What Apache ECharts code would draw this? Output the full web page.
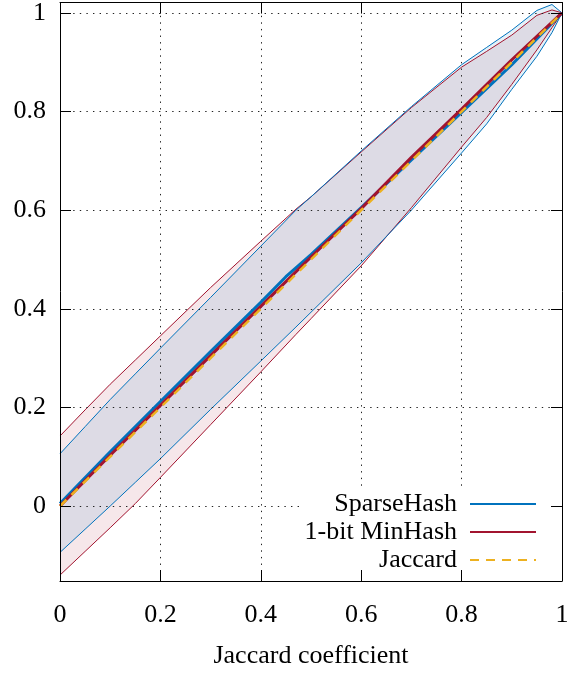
<!DOCTYPE html>
<html><head><meta charset="utf-8">
<script src="https://cdn.jsdelivr.net/npm/echarts@6/dist/echarts.min.js"></script>
<style>html,body{margin:0;padding:0;background:#fff}#c{width:584px;height:674px}</style>
</head><body><div id="c"></div>
<script>
// ---- data ----
const bandX        = [0,     0.05,   0.1,    0.15,  0.2,   0.3,   0.4,   0.47,  0.5,   0.6,   0.7,   0.8,   0.85,  0.9,   0.95,  0.98,  1];
const sparseUpper  = [0.106, 0.161,  0.216,  0.268, 0.32,  0.423, 0.527, 0.6,   0.627, 0.72,  0.81,  0.895, 0.93,  0.965, 1.005, 1.017, 1.0];
const sparseLower  = [-0.094,-0.047, 0.0,    0.048, 0.096, 0.196, 0.294, 0.363, 0.393, 0.493, 0.6,   0.716, 0.775, 0.845, 0.912, 0.96,  1.0];
const minhashUpper = [0.142, 0.195,  0.247,  0.296, 0.345, 0.443, 0.537, 0.602, 0.627, 0.718, 0.808, 0.89,  0.922, 0.955, 0.995, 1.006, 1.0];
const minhashLower = [-0.14, -0.092, -0.044, 0.005, 0.058, 0.165, 0.272, 0.348, 0.38,  0.487, 0.605, 0.728, 0.788, 0.855, 0.925, 0.97,  1.0];
const meanX        = [0,     0.1,    0.2,    0.3,   0.4,   0.45,  0.5,   0.6,   0.7,   0.8,   0.9,   1];
const sparseMean   = [0.005, 0.11,   0.212,  0.313, 0.413, 0.465, 0.51,  0.605, 0.702, 0.798, 0.895, 1.0];
const minhashMean  = [0.0,   0.103,  0.204,  0.305, 0.405, 0.455, 0.505, 0.603, 0.707, 0.805, 0.905, 1.0];
const jaccardX     = [0, 1];
const jaccardY     = [0, 1];
const tickValues   = [0, 0.2, 0.4, 0.6, 0.8, 1];
const seriesNames  = ['SparseHash', '1-bit MinHash', 'Jaccard'];
const xAxisName    = 'Jaccard coefficient';

const BLUE = '#0072BD', RED = '#A2142F', ORANGE = '#EDB120';
const FONT = 'Liberation Serif';
const FS = 26;
const pairs = (xs, ys) => xs.map((x, i) => [x, ys[i]]);

function bandSeries(upper, lower, fill) {
  return {
    type: 'custom', xAxisIndex: 0, yAxisIndex: 0, z: 1, silent: true,
    data: bandX.map((x, i) => [x, upper[i], lower[i]]),
    encode: { x: 0, y: [1, 2] },
    renderItem(params, api) {
      if (params.dataIndex !== 0) return null;
      const pts = [];
      for (let i = 0; i < bandX.length; i++) pts.push(api.coord([bandX[i], upper[i]]));
      for (let i = bandX.length - 1; i >= 0; i--) pts.push(api.coord([bandX[i], lower[i]]));
      return { type: 'polygon', shape: { points: pts }, style: { fill: fill } };
    }
  };
}
function edge(ys, color) {
  return { type: 'line', data: pairs(bandX, ys), symbol: 'none', z: 2, silent: true,
    lineStyle: { color: color, width: 1 }, itemStyle: { color: color } };
}

const chart = echarts.init(document.getElementById('c'), null, { renderer: 'canvas' });
const xMin = 0, xMax = 1, yMin = -0.152, yMax = 1.021;
const tickCommon = { show: true, inside: true, length: 11, lineStyle: { color: '#000', width: 1 } };
const gridLine = { show: true, lineStyle: { color: '#222', width: 1, type: [1.4, 5.2] } };

chart.setOption({
  animation: false,
  backgroundColor: '#fff',
  grid: { left: 60, right: 22, top: 0, bottom: 87 },
  legend: {
    data: seriesNames,
    orient: 'vertical', align: 'right',
    right: 22, top: 488,
    itemWidth: 66, itemHeight: 14, itemGap: 2,
    padding: [3, 25, 10, 5],
    backgroundColor: '#fff',
    z: 5,
    itemStyle: { opacity: 0 },
    textStyle: { fontFamily: FONT, fontSize: FS, color: '#000', lineHeight: 24, padding: [0, 8, 0, 0] }
  },
  xAxis: [
    { type: 'value', min: xMin, max: xMax, interval: 0.2, position: 'bottom', z: 3,
      axisLine: { show: false, onZero: false }, axisTick: { show: false },
      name: xAxisName, nameLocation: 'middle', nameGap: 62,
      nameTextStyle: { fontFamily: FONT, fontSize: FS, color: '#000' },
      axisLabel: { fontFamily: FONT, fontSize: FS, color: '#000', margin: 21 },
      splitLine: gridLine },
    { type: 'value', min: xMin, max: xMax, interval: 0.2, position: 'bottom', z: 10,
      axisLine: { show: true, onZero: false, lineStyle: { color: '#000', width: 1 } },
      axisTick: tickCommon, axisLabel: { show: false }, splitLine: { show: false } },
    { type: 'value', min: xMin, max: xMax, interval: 0.2, position: 'top', z: 10,
      axisLine: { show: true, onZero: false, lineStyle: { color: '#000', width: 1 } },
      axisTick: tickCommon, axisLabel: { show: false }, splitLine: { show: false } }
  ],
  yAxis: [
    { type: 'value', min: yMin, max: yMax, position: 'left', z: 3,
      axisLine: { show: false, onZero: false },
      axisTick: { show: true, inside: true, length: 0, customValues: tickValues },
      axisLabel: { fontFamily: FONT, fontSize: FS, color: '#000', margin: 14, customValues: tickValues },
      splitLine: gridLine },
    { type: 'value', min: yMin, max: yMax, position: 'left', z: 10,
      axisLine: { show: true, onZero: false, lineStyle: { color: '#000', width: 1 } },
      axisTick: Object.assign({ customValues: tickValues }, tickCommon),
      axisLabel: { show: false, customValues: tickValues }, splitLine: { show: false } },
    { type: 'value', min: yMin, max: yMax, position: 'right', z: 10,
      axisLine: { show: true, onZero: false, lineStyle: { color: '#000', width: 1 } },
      axisTick: Object.assign({ customValues: tickValues }, tickCommon),
      axisLabel: { show: false, customValues: tickValues }, splitLine: { show: false } }
  ],
  series: [
    bandSeries(minhashUpper, minhashLower, 'rgba(162,20,47,0.1)'),
    bandSeries(sparseUpper, sparseLower, 'rgba(0,114,189,0.1)'),
    edge(minhashUpper, RED), edge(minhashLower, RED),
    edge(sparseUpper, BLUE), edge(sparseLower, BLUE),
    { name: seriesNames[0], type: 'line', data: pairs(meanX, sparseMean), symbol: 'none', z: 4,
      lineStyle: { color: BLUE, width: 3 }, itemStyle: { color: BLUE } },
    { name: seriesNames[1], type: 'line', data: pairs(meanX, minhashMean), symbol: 'none', z: 4,
      lineStyle: { color: RED, width: 3 }, itemStyle: { color: RED } },
    { name: seriesNames[2], type: 'line', data: pairs(jaccardX, jaccardY), symbol: 'none', z: 4,
      lineStyle: { color: ORANGE, width: 2.5, type: [9, 7] }, itemStyle: { color: ORANGE } }
  ]
});
</script>
</body></html>
